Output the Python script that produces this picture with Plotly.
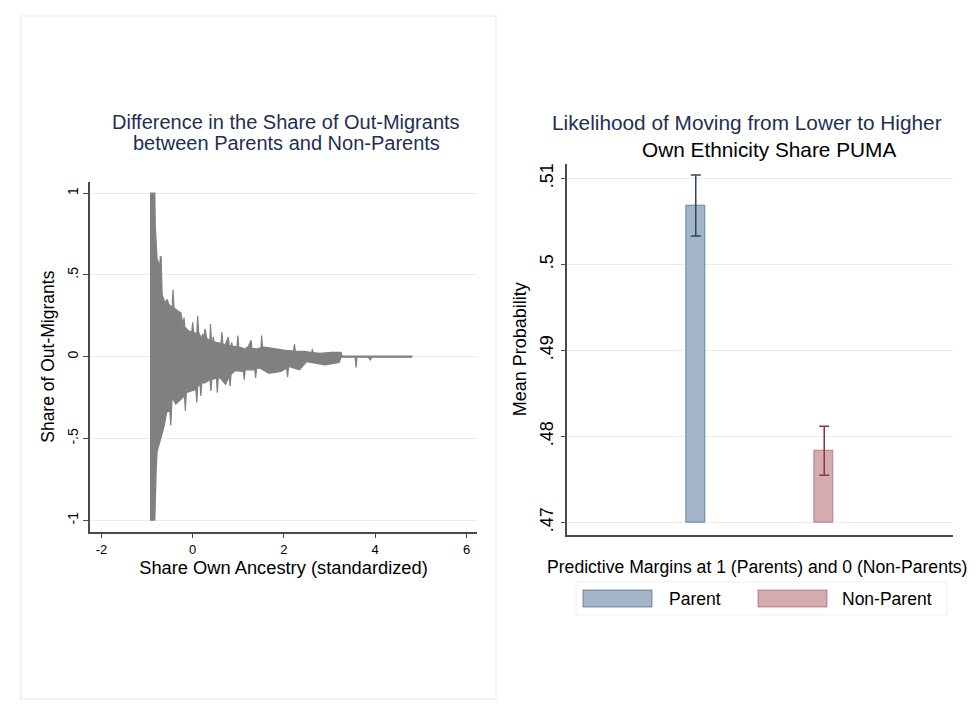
import plotly.graph_objects as go

# ---------------- data: left panel (envelope of the out-migrant difference series)
upper_x = [-0.935, -0.83, -0.82, -0.80, -0.78, -0.72, -0.71, -0.69, -0.67, -0.61, -0.56, -0.52, -0.45, -0.43,
           -0.41, -0.33, -0.26, -0.21, -0.19, -0.17, -0.10, -0.02, 0.0, 0.02, 0.09, 0.11, 0.13, 0.20, 0.22,
           0.24, 0.25, 0.27, 0.31, 0.38, 0.39, 0.41, 0.44, 0.45, 0.47, 0.49, 0.62, 0.64, 0.66, 0.71, 0.78,
           0.80, 0.84, 0.855, 0.87, 0.97, 0.99, 1.01, 1.11, 1.17, 1.18, 1.19, 1.28, 1.30, 1.37, 1.43, 1.44,
           1.45, 1.50, 1.51, 1.53, 1.59, 1.77, 2.0, 2.21, 2.23, 2.25, 2.46, 2.61, 2.62, 2.64, 2.79, 3.03,
           3.25, 3.28, 4.80]
upper_y = [1.0, 1.0, 0.80, 0.67, 0.60, 0.55, 0.61, 0.61, 0.38, 0.33, 0.35, 0.32, 0.30, 0.41,
           0.30, 0.28, 0.27, 0.19, 0.24, 0.18, 0.16, 0.15, 0.21, 0.15, 0.14, 0.25, 0.15, 0.11, 0.14,
           0.11, 0.12, 0.17, 0.11, 0.10, 0.20, 0.10, 0.09, 0.12, 0.09, 0.09, 0.08, 0.15, 0.08, 0.07, 0.12,
           0.07, 0.065, 0.087, 0.065, 0.06, 0.13, 0.06, 0.05, 0.045, 0.06, 0.045, 0.10, 0.05, 0.05, 0.045, 0.056,
           0.045, 0.06, 0.13, 0.06, 0.057, 0.047, 0.04, 0.035, 0.077, 0.035, 0.033, 0.025, 0.047, 0.025, 0.02, 0.026,
           0.026, 0.003, 0.003]
lower_x = [-0.935, -0.83, -0.81, -0.80, -0.78, -0.70, -0.63, -0.57, -0.50, -0.48, -0.46, -0.45, -0.37,
           -0.18, -0.16, -0.14, 0.07, 0.09, 0.11, 0.16, 0.18, 0.20, 0.27, 0.38, 0.40, 0.42, 0.52, 0.54,
           0.56, 0.60, 0.72, 0.80, 0.82, 0.84, 0.93, 1.11, 1.13, 1.15, 1.26, 1.36, 1.38, 1.40, 1.48, 1.66,
           1.70, 1.93, 2.06, 2.08, 2.10, 2.34, 2.50, 2.90, 3.21, 3.25, 3.56, 3.58, 3.60, 3.85, 3.89, 3.93,
           4.80]
lower_y = [-1.0, -1.0, -0.85, -0.695, -0.58, -0.50, -0.43, -0.34, -0.33, -0.42, -0.30, -0.25, -0.29,
           -0.24, -0.33, -0.22, -0.20, -0.28, -0.18, -0.17, -0.24, -0.16, -0.16, -0.14, -0.21, -0.14, -0.13, -0.22,
           -0.13, -0.13, -0.17, -0.12, -0.18, -0.11, -0.085, -0.09, -0.14, -0.08, -0.08, -0.08, -0.13, -0.07, -0.07, -0.10,
           -0.10, -0.09, -0.07, -0.125, -0.06, -0.08, -0.03, -0.05, -0.035, -0.003, -0.003, -0.065, -0.003, -0.003, -0.02, -0.003,
           -0.003]

left_xticks = [-2, 0, 2, 4, 6]
left_xticktext = ["-2", "0", "2", "4", "6"]
left_yticks = [-1, -0.5, 0, 0.5, 1]
left_yticktext = ["-1", "-.5", "0", ".5", "1"]

# ---------------- data: right panel (predictive margins)
groups = ["Parent", "Non-Parent"]
group_pos = [1, 2]
means = [0.5068, 0.4783]
ci_low = [0.5033, 0.4755]
ci_high = [0.5104, 0.4812]
bar_base = 0.47
right_yticks = [0.47, 0.48, 0.49, 0.50, 0.51]
right_yticktext = [".47", ".48", ".49", ".5", ".51"]

fill_cols = ["rgb(163,181,198)", "rgb(211,171,176)"]
line_cols = ["rgba(26,71,111,0.55)", "rgba(144,53,59,0.5)"]
err_cols = ["rgb(40,72,105)", "rgb(140,52,68)"]

FONT = "Liberation Sans, Arial, Helvetica, sans-serif"
NAVY = "#1e2f52"
AXC = "#4a4a4a"
GRID = "#ececec"

W, H = 977, 706
def px(x): return x / W
def py(y): return 1 - y / H

fig = go.Figure()

# left: the series as a filled envelope polygon
poly_x = upper_x + lower_x[::-1]
poly_y = upper_y + lower_y[::-1]
fig.add_trace(go.Scatter(x=poly_x, y=poly_y, mode="lines", fill="toself",
                         fillcolor="rgb(128,128,128)", line=dict(color="rgb(128,128,128)", width=1.2),
                         xaxis="x", yaxis="y", showlegend=False, hoverinfo="skip"))

# right: bars
for i in range(2):
    fig.add_trace(go.Bar(x=[group_pos[i]], y=[means[i] - bar_base], base=[bar_base], width=0.148,
                         marker=dict(color=fill_cols[i], line=dict(color=line_cols[i], width=1)),
                         name=groups[i], xaxis="x2", yaxis="y2", showlegend=False))
    fig.add_trace(go.Scatter(x=[group_pos[i]], y=[means[i]], mode="markers",
                             marker=dict(size=1, color="rgba(0,0,0,0)"),
                             error_y=dict(type="data", symmetric=False,
                                          array=[ci_high[i] - means[i]], arrayminus=[means[i] - ci_low[i]],
                                          color=err_cols[i], thickness=1.5, width=5),
                             xaxis="x2", yaxis="y2", showlegend=False, hoverinfo="skip"))

axis_common = dict(showline=True, linecolor=AXC, linewidth=1.5, ticks="outside", tickcolor=AXC,
                   ticklen=5, tickwidth=1.2, zeroline=False)

fig.update_layout(
    width=W, height=H, margin=dict(l=0, r=0, t=0, b=0),
    paper_bgcolor="white", plot_bgcolor="white",
    font=dict(family=FONT, color="black"),
    bargap=0,
    xaxis=dict(domain=[px(90), px(477)], range=[-2.25, 6.23], tickvals=left_xticks, ticktext=left_xticktext,
               showgrid=False, tickfont=dict(size=13), anchor="y",
               title=dict(text="Share Own Ancestry (standardized)", font=dict(size=18.3), standoff=3),
               **axis_common),
    yaxis=dict(domain=[py(531.7), py(181.7)], range=[-1.07, 1.07], tickvals=left_yticks, ticktext=left_yticktext,
               showgrid=True, gridcolor=GRID, gridwidth=1, tickangle=-90, tickfont=dict(size=14), anchor="x",
               title=dict(text="Share of Out-Migrants", font=dict(size=17.5), standoff=6),
               **axis_common),
    xaxis2=dict(domain=[px(567.3), px(952.7)], range=[0, 3], showticklabels=False, ticks="",
                showgrid=False, showline=True, linecolor=AXC, linewidth=1.5, zeroline=False, anchor="y2"),
    yaxis2=dict(domain=[py(534.6), py(163.7)], range=[0.4686, 0.5117], tickvals=right_yticks,
                ticktext=right_yticktext, showgrid=True, gridcolor=GRID, gridwidth=1, tickangle=-90,
                tickfont=dict(size=18), anchor="x2",
                title=dict(text="Mean Probability", font=dict(size=18), standoff=6),
                **axis_common),
)

annotations = [
    dict(text="Difference in the Share of Out-Migrants", x=px(286), y=py(122), font=dict(size=20, color=NAVY)),
    dict(text="between Parents and Non-Parents", x=px(286), y=py(143), font=dict(size=20, color=NAVY)),
    dict(text="Likelihood of Moving from Lower to Higher", x=px(747), y=py(122), font=dict(size=20.8, color=NAVY)),
    dict(text="Own Ethnicity Share PUMA", x=px(769), y=py(150), font=dict(size=20.8, color="black")),
    dict(text="Predictive Margins at 1 (Parents) and 0 (Non-Parents)", x=px(757), y=py(567),
         font=dict(size=17.6, color="black")),
    dict(text="Parent", x=px(667), y=py(599), xanchor="left", font=dict(size=17.5, color="black")),
    dict(text="Non-Parent", x=px(840), y=py(599), xanchor="left", font=dict(size=17.5, color="black")),
]
for a in annotations:
    a.setdefault("xanchor", "center")
    fig.add_annotation(xref="paper", yref="paper", showarrow=False, yanchor="middle", **a)

shapes = [
    # faint panel frame (left graph)
    dict(type="rect", x0=px(21), x1=px(496), y0=py(699), y1=py(16), line=dict(color="#efefef", width=1.5)),
    # legend box
    dict(type="rect", x0=px(576), x1=px(947), y0=py(615), y1=py(582), line=dict(color="#eeeeee", width=1)),
    # legend swatches
    dict(type="rect", x0=px(583), x1=px(652), y0=py(607), y1=py(590),
         fillcolor=fill_cols[0], line=dict(color=line_cols[0], width=1)),
    dict(type="rect", x0=px(758), x1=px(827), y0=py(607), y1=py(590),
         fillcolor=fill_cols[1], line=dict(color=line_cols[1], width=1)),
]
for s in shapes:
    fig.add_shape(xref="paper", yref="paper", layer="below", **s)

fig.write_html("out.html")
